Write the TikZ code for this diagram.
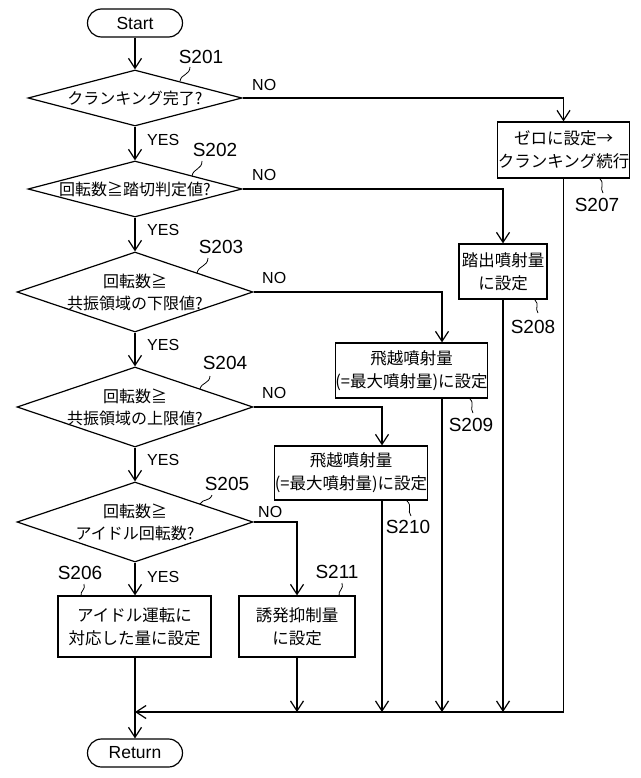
\documentclass[tikz,border=0pt]{standalone}
\usepackage{fontspec}
\setmainfont{Liberation Sans}
\newfontfamily\jp{Noto Sans CJK JP}
\usetikzlibrary{shapes.geometric,arrows.meta,calc}
\tikzset{
 flow/.style={line width=1.2pt},
 arr/.style={flow,-{Straight Barb[length=10pt,width=13pt,line width=1.2pt]}},
 dec/.style={draw,diamond,line width=1.2pt,inner sep=0pt},
 dtext/.style={align=center,inner sep=0pt,font=\jp\fontsize{16}{22}\selectfont},
 proc/.style={draw,rectangle,line width=1.2pt,inner sep=0pt,align=center,font=\jp\fontsize{16.5}{23}\selectfont},
 term/.style={draw,rectangle,rounded corners=14pt,line width=1.2pt,font=\fontsize{17.5}{20}\selectfont,minimum width=95pt,minimum height=28pt,inner sep=0pt},
 lab/.style={font=\fontsize{19}{22}\selectfont,inner sep=0pt},
 yn/.style={font=\fontsize{16}{18}\selectfont,inner sep=0pt,anchor=west},
 sq/.style={line width=0.8pt},
}
\newcommand\sqg[2]{\draw[sq] (#1) .. controls ($(#1)!0.4!(#2)!0.45!90:(#2)$) and ($(#1)!0.6!(#2)!0.45!-90:(#2)$) .. (#2);}
\begin{document}
\begin{tikzpicture}[x=1pt,y=1pt]
\useasboundingbox[fill=white] (0,0) rectangle (640,-778);
% terminals
\node[term] (start) at (135,-23) {Start};
\node[term] (ret) at (135,-753) {Return};
% decisions
\node[dec,minimum width=214pt,minimum height=56pt] (d1) at (135,-98) {};
\node[dtext] (d1t) at (d1.center) {クランキング完了?};
\node[dec,minimum width=214pt,minimum height=56pt] (d2) at (135,-189) {};
\node[dtext] (d2t) at (d2.center) {回転数≧踏切判定値?};
\node[dec,minimum width=236pt,minimum height=80pt] (d3) at (135,-292) {};
\node[dtext] (d3t) at (d3.center) {回転数≧\\共振領域の下限値?};
\node[dec,minimum width=236pt,minimum height=80pt] (d4) at (135,-407) {};
\node[dtext] (d4t) at (d4.center) {回転数≧\\共振領域の上限値?};
\node[dec,minimum width=236pt,minimum height=80pt] (d5) at (135,-522) {};
\node[dtext] (d5t) at (d5.center) {回転数≧\\アイドル回転数?};
% processes
\node[proc,minimum width=131pt,minimum height=56pt] (s207) at (563.5,-150) {ゼロに設定→\\クランキング続行};
\node[proc,minimum width=88pt,minimum height=55pt] (s208) at (503,-271.5) {踏出噴射量\\に設定};
\node[proc,minimum width=149pt,minimum height=55pt] (s209) at (411.5,-370.5) {飛越噴射量\\(=最大噴射量)に設定};
\node[proc,minimum width=150pt,minimum height=54pt] (s210) at (351,-473) {飛越噴射量\\(=最大噴射量)に設定};
\node[proc,minimum width=116pt,minimum height=61pt] (s211) at (297,-626.5) {誘発抑制量\\に設定};
\node[proc,minimum width=153pt,minimum height=61pt] (s206) at (134.5,-626.5) {アイドル運転に\\対応した量に設定};
% merge coordinate
\coordinate (mL) at (135,-712);
% main flow
\draw[arr] (start.south) -- (d1.north);
\draw[arr] (d1.south) -- (d2.north);
\draw[arr] (d2.south) -- (d3.north);
\draw[arr] (d3.south) -- (d4.north);
\draw[arr] (d4.south) -- (d5.north);
\draw[arr] (d5.south) -- (s206.north -| d5.south);
\draw[arr] (s206.south -| ret.north) -- (ret.north);
% NO branches
\draw[arr] (d1.east) -| (s207.north);
\draw[arr] (d2.east) -| (s208.north);
\draw[arr] (d3.east) -| ([xshift=30.5pt]s209.north);
\draw[arr] (d4.east) -| ([xshift=31pt]s210.north);
\draw[arr] (d5.east) -| (s211.north);
% returns
\draw[arr] (s207.south) |- (mL);
\draw[arr] (s208.south) -- (s208.south |- mL);
\draw[arr] ([xshift=30.5pt]s209.south) -- ([xshift=30.5pt]s209.south |- mL);
\draw[arr] ([xshift=31pt]s210.south) -- ([xshift=31pt]s210.south |- mL);
\draw[arr] (s211.south) -- (s211.south |- mL);
% YES / NO
\node[yn] (y1) at (147,-140) {YES};
\node[yn] (y2) at (147,-230) {YES};
\node[yn] (y3) at (147,-345) {YES};
\node[yn] (y4) at (147,-460) {YES};
\node[yn] (y5) at (147,-577) {YES};
\node[yn] (n1) at (252,-85) {NO};
\node[yn] (n2) at (252,-175) {NO};
\node[yn] (n3) at (262,-278) {NO};
\node[yn] (n4) at (262,-393) {NO};
\node[yn] (n5) at (258,-512) {NO};
% step labels
\node[lab] (l201) at (201,-57) {S201};
\node[lab] (l202) at (215,-150) {S202};
\node[lab] (l203) at (221,-247) {S203};
\node[lab] (l204) at (225,-363) {S204};
\node[lab] (l205) at (227,-484) {S205};
\node[lab] (l206) at (80,-573) {S206};
\node[lab] (l207) at (597,-205) {S207};
\node[lab] (l208) at (533,-327) {S208};
\node[lab] (l209) at (471,-425) {S209};
\node[lab] (l210) at (408,-527) {S210};
\node[lab] (l211) at (337,-572) {S211};
% leader squiggles
\sqg{190,-67}{180,-81}
\sqg{202,-161}{192,-176}
\sqg{208,-258}{197,-273}
\sqg{210,-376}{200,-389}
\sqg{212,-495}{200,-504}
\sqg{84,-584}{81,-596}
\sqg{600,-179}{603,-193}
\sqg{535,-300}{538,-313}
\sqg{470,-399}{473,-413}
\sqg{407,-501}{411,-516}
\sqg{342,-583}{339,-596}
\end{tikzpicture}
\end{document}
